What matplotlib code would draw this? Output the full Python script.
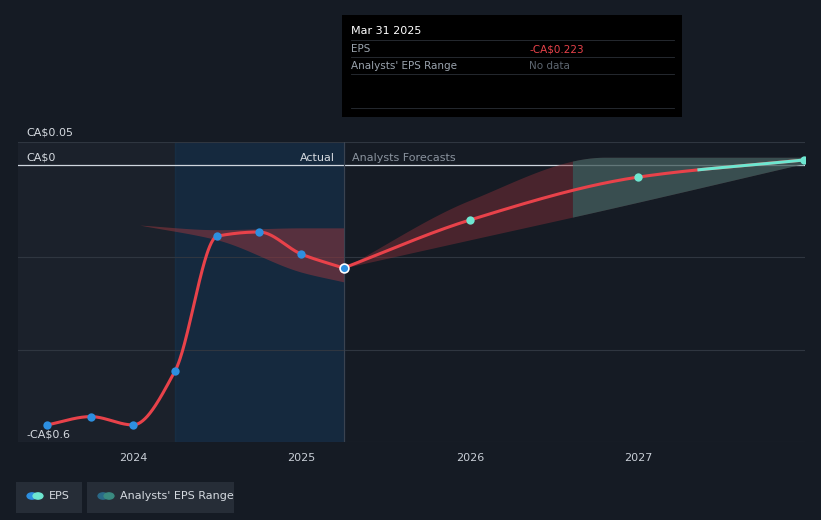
import matplotlib
matplotlib.use("Agg")
import matplotlib.pyplot as plt
import numpy as np
from matplotlib.patches import Rectangle

eps_x = [2023.49, 2023.75, 2024.0, 2024.25, 2024.5, 2024.75, 2025.0, 2025.25]
eps_y = [-0.563, -0.545, -0.563, -0.446, -0.154, -0.145, -0.193, -0.223]
fc_x = [2025.25, 2026.0, 2027.0, 2027.98]
fc_y = [-0.223, -0.119, -0.026, 0.011]
past_rng_x = [2024.04, 2024.5, 2025.0, 2025.25]
past_rng_hi = [-0.130, -0.140, -0.136, -0.136]
past_rng_lo = [-0.130, -0.162, -0.232, -0.253]
fc_rng_x = [2025.25, 2026.0, 2026.8, 2027.98]
fc_rng_hi = [-0.223, -0.076, 0.017, 0.017]
fc_rng_lo = [-0.223, -0.162, -0.097, 0.003]
xticks = [2024, 2025, 2026, 2027]

def pchip(x, y, n=200):
    x = np.asarray(x, float); y = np.asarray(y, float)
    h = np.diff(x); d = np.diff(y) / h
    m = np.zeros_like(y)
    for k in range(1, len(x) - 1):
        if d[k-1] * d[k] > 0:
            w1 = 2*h[k] + h[k-1]; w2 = h[k] + 2*h[k-1]
            m[k] = (w1 + w2) / (w1/d[k-1] + w2/d[k])
    m[0] = d[0]; m[-1] = d[-1]
    xs = np.linspace(x[0], x[-1], n); ys = np.empty_like(xs)
    for i, xv in enumerate(xs):
        k = min(np.searchsorted(x, xv, side='right') - 1, len(x) - 2)
        t = (xv - x[k]) / h[k]
        h00 = 2*t**3 - 3*t**2 + 1; h10 = t**3 - 2*t**2 + t
        h01 = -2*t**3 + 3*t**2; h11 = t**3 - t**2
        ys[i] = h00*y[k] + h10*h[k]*m[k] + h01*y[k+1] + h11*h[k]*m[k+1]
    return xs, ys

bg = "#151b24"
fig = plt.figure(figsize=(8.21, 5.20), dpi=100, facecolor=bg)
ax = fig.add_axes([18/821, 1-442/520, (805-18)/821, (442-142)/520])
ax.set_facecolor(bg)
x0 = 2023.49 - 29/168.5
ax.set_xlim(x0, x0 + 787/168.5)
ax.set_ylim(-0.6, 0.05)

ax.axvspan(x0, 2024.25, color="#1b212b", zorder=0)
ax.axvspan(2024.25, 2025.25, color="#16304a", alpha=0.7, zorder=0)
for g in [0.05, -0.2, -0.4, -0.6]:
    ax.axhline(g, color="#2f3640", lw=0.8, zorder=1)
ax.axhline(0, color="#cfd6de", lw=0.9, zorder=2)
ax.axvline(2025.25, color="#3a4350", lw=0.8, zorder=2)

xs, hi = pchip(past_rng_x, past_rng_hi); _, lo = pchip(past_rng_x, past_rng_lo)
ax.fill_between(xs, lo, hi, color="#a83a40", alpha=0.45, lw=0, zorder=3)
xs, hi = pchip(fc_rng_x, fc_rng_hi); _, lo = pchip(fc_rng_x, fc_rng_lo)
ax.fill_between(xs, lo, hi, color="#8a3038", alpha=0.45, lw=0, zorder=3)
mask = xs > 2026.6
ax.fill_between(xs[mask], np.minimum(lo[mask], 0), np.maximum(hi[mask], 0), where=hi[mask] > 0,
                color="#2f6b68", alpha=0.6, lw=0, zorder=3)

xs, ys = pchip(eps_x, eps_y, 400)
ax.plot(xs, ys, color="#e8424a", lw=2.2, zorder=4)
xs, ys = pchip(fc_x, fc_y, 300)
ax.plot(xs, ys, color="#e8424a", lw=2.2, zorder=4)
m = xs > 2027.35
ax.plot(xs[m], ys[m], color="#6ee6d0", lw=2.2, zorder=4)
ax.scatter(eps_x[:-1], eps_y[:-1], s=36, color="#2d8fe0", zorder=5, lw=0)
ax.scatter([eps_x[-1]], [eps_y[-1]], s=40, color="#2d8fe0", edgecolor="white", lw=1.2, zorder=6)
ax.scatter(fc_x[1:], fc_y[1:], s=36, color="#6ee6d0", zorder=5, lw=0)

for s in ax.spines.values():
    s.set_visible(False)
ax.set_yticks([])
ax.set_xticks(xticks)
ax.set_xticklabels([str(t) for t in xticks], color="#c8ced6", fontsize=8)
ax.tick_params(axis='x', length=0, pad=8)

tc = "#d5dae0"
ax.text(x0 + 8/168.5, 0.05 + 0.01, "CA$0.05", color=tc, fontsize=8, va="bottom")
ax.text(x0 + 8/168.5, 0.005, "CA$0", color=tc, fontsize=8, va="bottom")
ax.text(x0 + 8/168.5, -0.6 + 0.005, "-CA$0.6", color=tc, fontsize=8, va="bottom")
ax.text(2025.25 - 0.05, 0.005, "Actual", color=tc, fontsize=8, va="bottom", ha="right")
ax.text(2025.25 + 0.05, 0.005, "Analysts Forecasts", color="#8a939e", fontsize=8, va="bottom")

fig.patches.append(Rectangle((342/821, 1-117/520), 340/821, 102/520, transform=fig.transFigure,
                             facecolor="black", edgecolor="none", zorder=10))
fig.text(351/821, 1-31/520, "Mar 31 2025", color="white", fontsize=8, va="center", zorder=11)
fig.text(351/821, 1-49/520, "EPS", color="#9aa3ad", fontsize=7.5, va="center", zorder=11)
fig.text(529/821, 1-49/520, "-CA$0.223", color="#e8424a", fontsize=7.5, va="center", zorder=11)
fig.text(351/821, 1-66/520, "Analysts' EPS Range", color="#9aa3ad", fontsize=7.5, va="center", zorder=11)
fig.text(529/821, 1-66/520, "No data", color="#5d6670", fontsize=7.5, va="center", zorder=11)
for yy in [40, 57, 74, 108]:
    fig.lines.append(plt.Line2D([351/821, 674/821], [1-yy/520]*2, transform=fig.transFigure,
                                color="#2a2f36", lw=0.6, zorder=11))

for (lx, w, label, c1, c2) in [(16, 66, "EPS", "#2d8fe0", "#6ee6d0"),
                                (87, 147, "Analysts' EPS Range", "#2a6a88", "#3a8a80")]:
    fig.patches.append(Rectangle((lx/821, 1-513/520), w/821, 31/520, transform=fig.transFigure,
                                 facecolor="#262d37", edgecolor="none"))
    fig.patches.append(plt.Circle(((lx+16)/821, 1-496/520), 0.006, transform=fig.transFigure, color=c1))
    fig.patches.append(plt.Circle(((lx+22)/821, 1-496/520), 0.006, transform=fig.transFigure, color=c2))
    fig.text((lx+33)/821, 1-496/520, label, color="#d5dae0", fontsize=8, va="center")

fig.savefig("out.png", dpi=100, facecolor=bg)
